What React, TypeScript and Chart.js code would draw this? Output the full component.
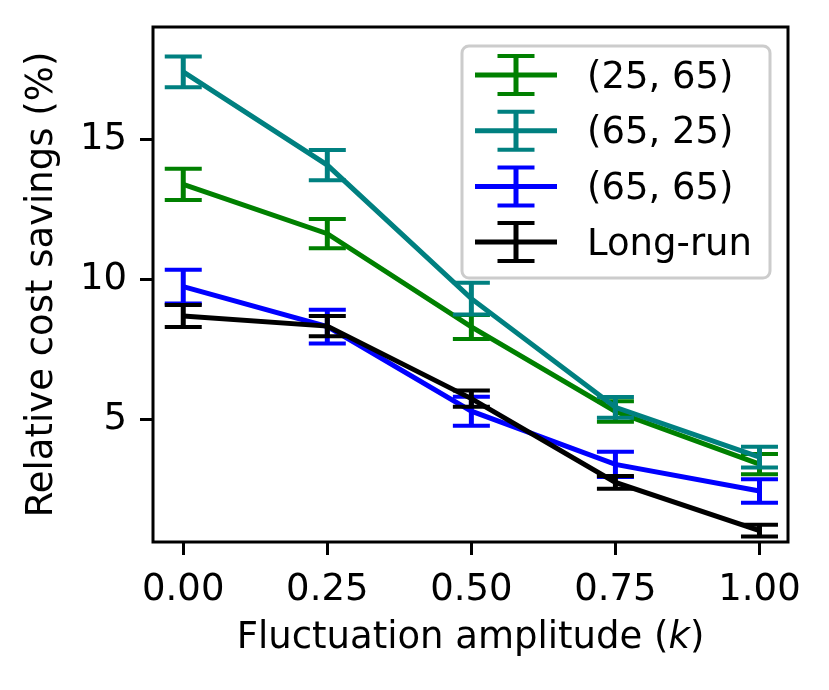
import { useEffect, useRef } from 'react';
import { Chart, registerables } from 'chart.js';

Chart.register(...registerables);

const kValues = [0, 0.25, 0.5, 0.75, 1.0];
const xTicks = [0, 0.25, 0.5, 0.75, 1.0];
const yTicks = [5, 10, 15];

const labels = ['(25, 65)', '(65, 25)', '(65, 65)', 'Long-run'];
const colors = ['#008000', '#008080', '#0000ff', '#000000'];

const savings2565 = [13.38, 11.62, 8.29, 5.27, 3.39];
const err2565 = [0.56, 0.52, 0.43, 0.37, 0.36];
const savings6525 = [17.4, 14.07, 9.3, 5.42, 3.64];
const err6525 = [0.55, 0.54, 0.57, 0.37, 0.37];
const savings6565 = [9.73, 8.3, 5.28, 3.38, 2.43];
const err6565 = [0.6, 0.6, 0.52, 0.45, 0.42];
const savingsLongRun = [8.68, 8.32, 5.73, 2.74, 1.02];
const errLongRun = [0.39, 0.36, 0.29, 0.23, 0.21];

const values = [savings2565, savings6525, savings6565, savingsLongRun];
const errors = [err2565, err6525, err6565, errLongRun];

const FONT = '"DejaVu Sans", sans-serif';
const FS = 37;
const LW = 5;
const CAP = 18.5;

const overlay = {
  id: 'overlay',
  afterDatasetDraw(chart: any, args: any) {
    const { ctx, scales } = chart;
    const i = args.index;
    ctx.save();
    ctx.strokeStyle = colors[i];
    kValues.forEach((k, j) => {
      const px = scales.x.getPixelForValue(k);
      const top = scales.y.getPixelForValue(values[i][j] + errors[i][j]);
      const bot = scales.y.getPixelForValue(values[i][j] - errors[i][j]);
      ctx.lineWidth = LW;
      ctx.beginPath();
      ctx.moveTo(px, top);
      ctx.lineTo(px, bot);
      ctx.stroke();
      ctx.lineWidth = 4;
      ctx.beginPath();
      ctx.moveTo(px - CAP, top);
      ctx.lineTo(px + CAP, top);
      ctx.moveTo(px - CAP, bot);
      ctx.lineTo(px + CAP, bot);
      ctx.stroke();
    });
    ctx.restore();
  },
  afterDraw(chart: any) {
    const { ctx, chartArea: a } = chart;
    ctx.save();
    // frame
    ctx.strokeStyle = '#000';
    ctx.lineWidth = 3;
    ctx.strokeRect(a.left, a.top, a.right - a.left, a.bottom - a.top);

    // legend
    const bx = 462, by = 46, bw = 308, bh = 232;
    ctx.beginPath();
    ctx.roundRect(bx, by, bw, bh, 7);
    ctx.fillStyle = 'rgba(255,255,255,0.8)';
    ctx.fill();
    ctx.strokeStyle = '#cccccc';
    ctx.lineWidth = 3;
    ctx.stroke();
    ctx.font = `${FS}px ${FONT}`;
    ctx.textBaseline = 'middle';
    ctx.textAlign = 'left';
    labels.forEach((label, i) => {
      const ry = 75 + i * 55.7;
      const cx = 516;
      ctx.strokeStyle = colors[i];
      ctx.lineWidth = LW;
      ctx.beginPath();
      ctx.moveTo(475, ry);
      ctx.lineTo(557, ry);
      ctx.moveTo(cx, ry - 19);
      ctx.lineTo(cx, ry + 19);
      ctx.stroke();
      ctx.lineWidth = 4;
      ctx.beginPath();
      ctx.moveTo(cx - CAP, ry - 19);
      ctx.lineTo(cx + CAP, ry - 19);
      ctx.moveTo(cx - CAP, ry + 19);
      ctx.lineTo(cx + CAP, ry + 19);
      ctx.stroke();
      ctx.fillStyle = '#000';
      ctx.fillText(label, 587, ry + 3);
    });

    // x title with italic k
    const partA = 'Fluctuation amplitude (';
    const partB = 'k';
    const partC = ')';
    ctx.font = `${FS}px ${FONT}`;
    const wA = ctx.measureText(partA).width;
    const wC = ctx.measureText(partC).width;
    ctx.font = `italic ${FS}px ${FONT}`;
    const wB = ctx.measureText(partB).width;
    const total = wA + wB + wC;
    const x0 = (a.left + a.right) / 2 - total / 2;
    const ty = 638;
    ctx.fillStyle = '#000';
    ctx.font = `${FS}px ${FONT}`;
    ctx.fillText(partA, x0, ty);
    ctx.font = `italic ${FS}px ${FONT}`;
    ctx.fillText(partB, x0 + wA, ty);
    ctx.font = `${FS}px ${FONT}`;
    ctx.fillText(partC, x0 + wA + wB, ty);

    // y title
    ctx.translate(42, (a.top + a.bottom) / 2);
    ctx.rotate(-Math.PI / 2);
    ctx.textAlign = 'center';
    ctx.fillText('Relative cost savings (%)', 0, 0);
    ctx.restore();
  },
};

export default function App() {
  const canvasRef = useRef<HTMLCanvasElement | null>(null);

  useEffect(() => {
    if (!canvasRef.current) {
      return;
    }
    document.body.style.margin = '0';

    const chart = new Chart(canvasRef.current, {
      type: 'line',
      data: {
        datasets: labels.map((label, i) => ({
          label,
          data: kValues.map((k, j) => ({ x: k, y: values[i][j] })),
          borderColor: colors[i],
          borderWidth: LW,
          pointRadius: 0,
          fill: false,
          order: 4 - i,
        })),
      },
      options: {
        animation: false,
        responsive: true,
        maintainAspectRatio: false,
        layout: { padding: { left: 0, top: 27, right: 41, bottom: 0 } },
        plugins: { legend: { display: false }, tooltip: { enabled: false } },
        scales: {
          x: {
            type: 'linear',
            min: -0.0525,
            max: 1.0495,
            afterBuildTicks: (s: any) => { s.ticks = xTicks.map((v) => ({ value: v })); },
            afterFit: (s: any) => { s.height = 148; s.paddingLeft = 0; s.paddingRight = 0; },
            border: { display: false },
            grid: { drawOnChartArea: false, tickLength: 13, tickWidth: 3, tickColor: '#000' },
            ticks: {
              color: '#000',
              padding: 13,
              maxRotation: 0,
              font: { family: FONT, size: FS },
              callback: (v: any) => Number(v).toFixed(2),
            },
          },
          y: {
            min: 0.61,
            max: 19.0,
            afterBuildTicks: (s: any) => { s.ticks = yTicks.map((v) => ({ value: v })); },
            afterFit: (s: any) => { s.width = 153; s.paddingTop = 0; s.paddingBottom = 0; },
            border: { display: false },
            grid: { drawOnChartArea: false, tickLength: 13, tickWidth: 3, tickColor: '#000' },
            ticks: {
              color: '#000',
              padding: 13,
              font: { family: FONT, size: FS },
              callback: (v: any) => String(v),
            },
          },
        },
      },
      plugins: [overlay],
    });
    return () => chart.destroy();
  }, []);

  return (
    <div style={{ position: 'absolute', left: 0, top: 0, width: '829px', height: '690px', background: '#fff' }}>
      <canvas ref={canvasRef} />
    </div>
  );
}
